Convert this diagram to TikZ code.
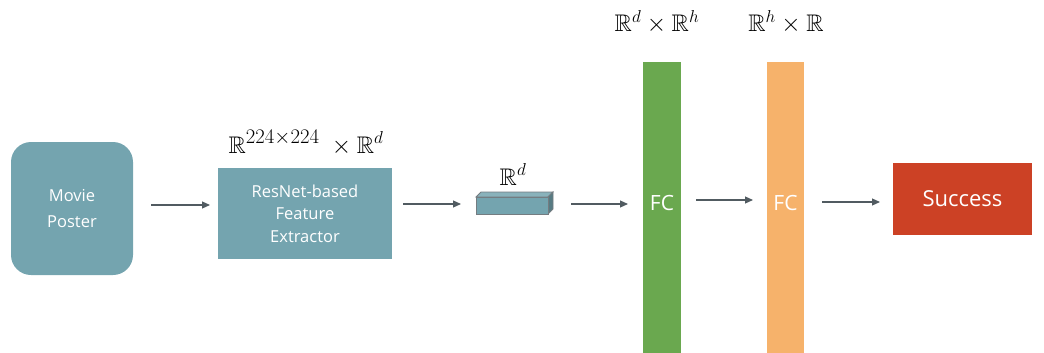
\documentclass[tikz,border=0pt]{standalone}
\usepackage{amsmath,amssymb}
\usepackage{fontspec}
\setmainfont{Open Sans}
\usetikzlibrary{arrows.meta}
\definecolor{teal1}{HTML}{74A4AF}
\definecolor{fcgreen}{HTML}{6AA84F}
\definecolor{fcorange}{HTML}{F6B26B}
\definecolor{succred}{HTML}{CC4125}
\definecolor{arrowc}{HTML}{515B61}
\tikzset{
  conn/.style={draw=arrowc, line width=1.1pt, -{Triangle[length=8pt,width=7pt]}},
  lbl/.style={text=white, align=center, inner sep=0pt},
  mathlbl/.style={font=\fontsize{24}{28}\selectfont, inner sep=0pt, anchor=base},
}
\begin{document}
\begin{tikzpicture}[x=1pt,y=-1pt]
\useasboundingbox (0,0) rectangle (1044,353);
% Movie poster
\node[fill=teal1, rounded corners=20pt, minimum width=122pt, minimum height=133pt, inner sep=0pt] (poster) at (72,208.5) {};
\node[lbl, font=\fontsize{16.5}{26}\selectfont] at (poster.center) {Movie\\Poster};
% ResNet
\node[fill=teal1, minimum width=174pt, minimum height=91pt, inner sep=0pt] (resnet) at (305,213.5) {};
\node[lbl, font=\fontsize{16.5}{22.5}\selectfont] at (resnet.center) {ResNet-based\\Feature\\Extractor};
\node[mathlbl] (resnetlbl) at (306,153) {$\mathbb{R}^{\text{\fontsize{21}{21}\selectfont$224{\times}224$}}\;\times\mathbb{R}^{d}$};
% cuboid
\node[inner sep=0pt, minimum width=72pt, minimum height=17pt] (vec) at (512,205.5) {};
\fill[teal1!85!white, draw=arrowc!80, line width=0.8pt] (476,197) -- (481,192) -- (553,192) -- (548,197) -- cycle;
\fill[teal1!75!black, draw=arrowc!80, line width=0.8pt] (548,197) -- (553,192) -- (553,209) -- (548,214) -- cycle;
\fill[teal1, draw=arrowc!80, line width=0.8pt] (476,197) rectangle (548,214);
\node[mathlbl] (veclbl) at (513,185) {$\mathbb{R}^{d}$};
% FC green
\fill[fcgreen] (643,62) rectangle (681,353);
\node[inner sep=0pt, minimum width=38pt, minimum height=60pt] (fc1) at (662,203) {};
\node[lbl, font=\fontsize{21}{24}\selectfont] at (fc1.center) {FC};
\node[mathlbl] (fc1lbl) at (657,32) {$\mathbb{R}^{d}\times\mathbb{R}^{h}$};
% FC orange
\fill[fcorange] (767,62) rectangle (804,353);
\node[inner sep=0pt, minimum width=37pt, minimum height=60pt] (fc2) at (785.5,203) {};
\node[lbl, font=\fontsize{21}{24}\selectfont] at (fc2.center) {FC};
\node[mathlbl] (fc2lbl) at (786,32) {$\mathbb{R}^{h}\times\mathbb{R}$};
% Success
\node[fill=succred, minimum width=139pt, minimum height=72pt, inner sep=0pt, text=white, font=\fontsize{22}{24}\selectfont] (succ) at (962.5,199) {Success};
% arrows
\coordinate (a1s) at (151,205); \coordinate (a1e) at (210,205);
\draw[conn] (a1s) -- (a1e);
\coordinate (a2s) at (403,204); \coordinate (a2e) at (461,204);
\draw[conn] (a2s) -- (a2e);
\coordinate (a3s) at (571,204); \coordinate (a3e) at (628,204);
\draw[conn] (a3s) -- (a3e);
\coordinate (a4s) at (696,200); \coordinate (a4e) at (753,200);
\draw[conn] (a4s) -- (a4e);
\coordinate (a5s) at (822,202); \coordinate (a5e) at (880,202);
\draw[conn] (a5s) -- (a5e);
\end{tikzpicture}
\end{document}
